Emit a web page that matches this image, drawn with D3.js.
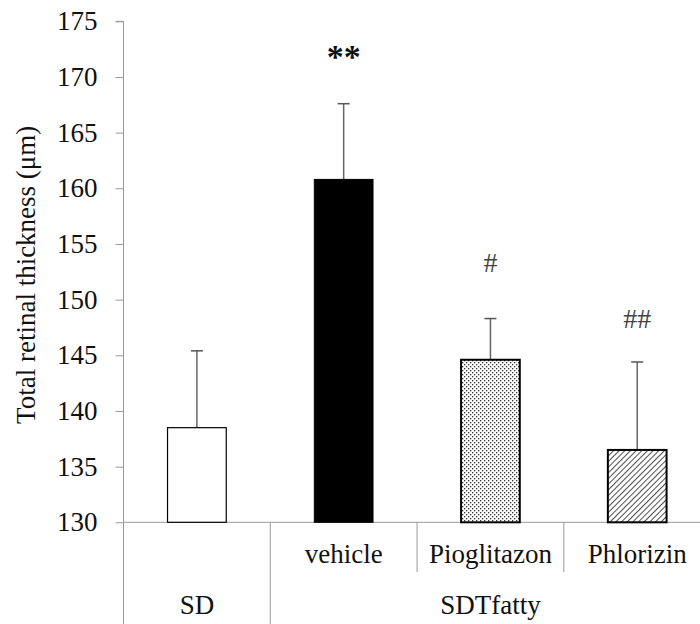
<!DOCTYPE html>
<html>
<head>
<meta charset="utf-8">
<script src="https://cdn.jsdelivr.net/npm/d3@7"></script>
<style>
  html, body { margin: 0; padding: 0; background: #fff; }
  svg { display: block; }
</style>
</head>
<body>
<svg id="chart" width="700" height="624"></svg>
<script>
// Retinal thickness per treatment group (mean and upper error)
const groups = ["SD", "vehicle", "Pioglitazon", "Phlorizin"];
const means = [138.5, 160.8, 144.6, 136.5];
const errors = [6.9, 6.8, 3.7, 7.9];
const marks = ["", "**", "#", "##"];
const yTicks = [130, 135, 140, 145, 150, 155, 160, 165, 170, 175];
const strains = ["SD", "SDTfatty"];
const strainSpan = [[0, 0], [1, 3]];
const yTitle = "Total retinal thickness (\u03bcm)";

const serif = "Liberation Serif";
const svg = d3.select("#chart");
const plotLeft = 123.5, plotRight = 700, plotTop = 21.3, plotBottom = 522.3;

const x = d3.scaleBand().domain(groups).range([123.5, 710.6]).paddingInner(0.6).paddingOuter(0.3);
const y = d3.scaleLinear().domain([130, 175]).range([plotBottom, plotTop]);

// Fill patterns
const defs = svg.append("defs");
const dots = defs.append("pattern").attr("id", "dots")
  .attr("patternUnits", "userSpaceOnUse").attr("width", 4).attr("height", 4);
dots.append("rect").attr("width", 4).attr("height", 4).attr("fill", "#fff");
dots.append("rect").attr("x", 0).attr("y", 0).attr("width", 1.3).attr("height", 1.3).attr("fill", "#333");
dots.append("rect").attr("x", 2).attr("y", 2).attr("width", 1.3).attr("height", 1.3).attr("fill", "#333");

const hatch = defs.append("pattern").attr("id", "hatch")
  .attr("patternUnits", "userSpaceOnUse").attr("width", 4).attr("height", 4)
  .attr("patternTransform", "rotate(45)");
hatch.append("rect").attr("width", 4).attr("height", 4).attr("fill", "#fff");
hatch.append("line").attr("x1", 0).attr("y1", 0).attr("x2", 0).attr("y2", 4)
  .attr("stroke", "#222").attr("stroke-width", 1.6);

const fills = ["#fff", "#000", "url(#dots)", "url(#hatch)"];
const strokes = [1.2, 1, 2, 2];

// Y axis
const yAxis = d3.axisLeft(y).tickValues(yTicks).tickSize(8).tickPadding(18).tickFormat(d3.format("d"));
const gy = svg.append("g").attr("transform", `translate(${plotLeft},0)`).call(yAxis)
  .attr("font-family", serif).attr("font-size", 27);
gy.select(".domain").attr("stroke", "#999").attr("d", `M-8,${plotTop}H0V${plotBottom}`);
gy.selectAll(".tick line").attr("stroke", "#999");
gy.selectAll(".tick text").attr("fill", "#111");

// Baseline
svg.append("line").attr("x1", plotLeft).attr("x2", plotRight).attr("y1", plotBottom).attr("y2", plotBottom)
  .attr("stroke", "#999");

// Error bars (drawn below bars)
const errG = svg.append("g");
groups.forEach((g, i) => {
  const cx = x(g) + x.bandwidth() / 2;
  errG.append("line").attr("x1", cx).attr("x2", cx)
    .attr("y1", y(means[i])).attr("y2", y(means[i] + errors[i]))
    .attr("stroke", "#666").attr("stroke-width", 1.5);
  errG.append("line").attr("x1", cx - 6).attr("x2", cx + 6)
    .attr("y1", y(means[i] + errors[i])).attr("y2", y(means[i] + errors[i]))
    .attr("stroke", "#555").attr("stroke-width", 1.5);
});

// Bars
svg.append("g").selectAll("rect").data(groups).join("rect")
  .attr("x", (d) => x(d))
  .attr("width", x.bandwidth())
  .attr("y", (d, i) => y(means[i]))
  .attr("height", (d, i) => plotBottom - y(means[i]))
  .attr("fill", (d, i) => fills[i])
  .attr("stroke", "#000")
  .attr("stroke-width", (d, i) => strokes[i]);

// Significance marks: ** vs SD above the vehicle bar, # vs vehicle above the drug bars
const markLift = [0, 34, 47, 34];
svg.append("g").selectAll("text").data(groups).join("text")
  .attr("x", (d) => x(d) + x.bandwidth() / 2)
  .attr("y", (d, i) => i === 1 ? 68 : y(means[i] + errors[i]) - markLift[i])
  .attr("text-anchor", "middle")
  .attr("font-family", serif)
  .attr("font-size", (d, i) => i === 1 ? 34 : 28)
  .attr("font-weight", (d, i) => i === 1 ? "bold" : "normal")
  .attr("fill", (d, i) => i === 1 ? "#111" : "#444")
  .text((d, i) => marks[i]);

// Category dividers and labels
const step = x.step();
const edge = (i) => x(groups[i]) - x.paddingInner() * step / 2;
const divG = svg.append("g").attr("stroke", "#999");
// strain dividers run full height
divG.append("line").attr("x1", plotLeft).attr("x2", plotLeft).attr("y1", plotBottom).attr("y2", 624);
divG.append("line").attr("x1", edge(1)).attr("x2", edge(1)).attr("y1", plotBottom).attr("y2", 624);
// treatment dividers within SDTfatty
[2, 3].forEach((i) => {
  divG.append("line").attr("x1", edge(i)).attr("x2", edge(i)).attr("y1", plotBottom).attr("y2", 572);
});

svg.append("g").selectAll("text").data(groups.slice(1)).join("text")
  .attr("x", (d) => x(d) + x.bandwidth() / 2)
  .attr("y", 563)
  .attr("text-anchor", "middle")
  .attr("font-family", serif)
  .attr("font-size", 27)
  .attr("fill", "#111")
  .text((d) => d);

svg.append("g").selectAll("text").data(strains).join("text")
  .attr("x", (d, i) => {
    const a = strainSpan[i][0], b = strainSpan[i][1];
    return (x(groups[a]) + x(groups[b]) + x.bandwidth()) / 2;
  })
  .attr("y", 614)
  .attr("text-anchor", "middle")
  .attr("font-family", serif)
  .attr("font-size", 27)
  .attr("fill", "#111")
  .text((d) => d);

// Y axis title
svg.append("text")
  .attr("transform", `translate(35,${(plotTop + plotBottom) / 2 + 3}) rotate(-90)`)
  .attr("text-anchor", "middle")
  .attr("font-family", serif)
  .attr("font-size", 27)
  .attr("fill", "#111")
  .text(yTitle);
</script>
</body>
</html>
